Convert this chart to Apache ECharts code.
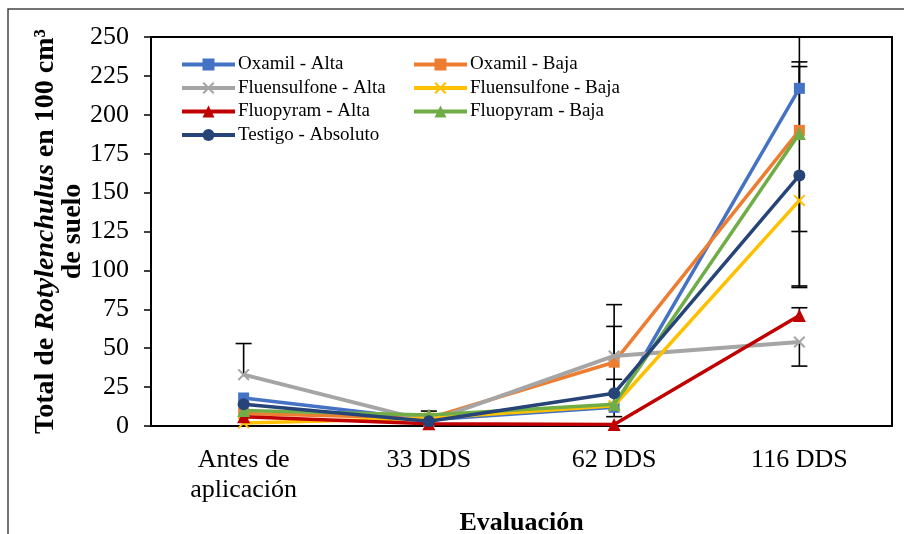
<!DOCTYPE html>
<html><head><meta charset="utf-8">
<script src="https://cdn.jsdelivr.net/npm/echarts@6/dist/echarts.min.js"></script>
<style>html,body{margin:0;padding:0;background:#fff}#c{width:904px;height:534px}</style>
</head><body><div id="c"></div>
<script>
const categories = ['Antes de\naplicación', '33 DDS', '62 DDS', '116 DDS'];
const yTicks = [0, 25, 50, 75, 100, 125, 150, 175, 200, 225, 250];
const seriesNames = ['Oxamil - Alta', 'Oxamil - Baja', 'Fluensulfone - Alta', 'Fluensulfone - Baja', 'Fluopyram - Alta', 'Fluopyram - Baja', 'Testigo - Absoluto'];
const oxamilAlta = [18, 4, 12, 217];
const oxamilBaja = [8, 5, 41, 190];
const fluensulfoneAlta = [33, 3, 45, 54];
const fluensulfoneBaja = [2, 5, 13, 145];
const fluopyramAlta = [6, 1.5, 1, 71];
const fluopyramBaja = [10, 7, 14, 188];
const testigoAbsoluto = [14, 3, 21, 161];
// error bars: plus / minus amounts per series per category (0 = not shown)
const plusOxamilAlta = [0, 0, 0, 17];
const minusOxamilAlta = [0, 0, 0, 0];
const plusOxamilBaja = [0, 0, 37, 41];
const minusOxamilBaja = [0, 0, 35, 0];
const plusFluensulfoneAlta = [20, 0, 19, 0];
const minusFluensulfoneAlta = [0, 0, 0, 15.5];
const plusFluensulfoneBaja = [0, 0, 0, 0];
const minusFluensulfoneBaja = [0, 0, 0, 56];
const plusFluopyramAlta = [0, 0, 0, 5];
const minusFluopyramAlta = [0, 0, 0, 0];
const plusFluopyramBaja = [0, 2.6, 0, 63];
const minusFluopyramBaja = [0, 0, 0, 63];
const plusTestigoAbsoluto = [0, 0, 9, 0];
const minusTestigoAbsoluto = [0, 0, 0, 71];

const values = [oxamilAlta, oxamilBaja, fluensulfoneAlta, fluensulfoneBaja, fluopyramAlta, fluopyramBaja, testigoAbsoluto];
const plus = [plusOxamilAlta, plusOxamilBaja, plusFluensulfoneAlta, plusFluensulfoneBaja, plusFluopyramAlta, plusFluopyramBaja, plusTestigoAbsoluto];
const minus = [minusOxamilAlta, minusOxamilBaja, minusFluensulfoneAlta, minusFluensulfoneBaja, minusFluopyramAlta, minusFluopyramBaja, minusTestigoAbsoluto];
const colors = ['#4472C4', '#ED7D31', '#A5A5A5', '#FFC000', '#C00000', '#70AD47', '#264478'];
const xSym = 'path://M0,1.2L1.2,0L5,3.8L8.8,0L10,1.2L6.2,5L10,8.8L8.8,10L5,6.2L1.2,10L0,8.8L3.8,5Z';
const symbols = ['rect', 'rect', xSym, xSym, 'triangle', 'triangle', 'circle'];
const symSizes = [11, 11, 12, 12, 13, 13, 12];

const FONT = '"Liberation Serif", "Times New Roman", serif';

const errData = [];
values.forEach(function (arr, s) {
  arr.forEach(function (v, i) {
    const p = plus[s][i], m = minus[s][i];
    if (p > 0 || m > 0) errData.push([i, v, v - m, v + p, m > 0 ? 1 : 0, p > 0 ? 1 : 0]);
  });
});

const series = [{
  type: 'custom',
  name: 'err',
  z: 1,
  clip: true,
  silent: true,
  data: errData,
  renderItem: function (params, api) {
    const x = api.value(0);
    const lo = api.coord([x, api.value(2)]);
    const hi = api.coord([x, api.value(3)]);
    const w = 8;
    const st = { stroke: '#000', lineWidth: 1.6 };
    const ch = [{ type: 'line', shape: { x1: lo[0], y1: lo[1], x2: hi[0], y2: hi[1] }, style: st }];
    if (api.value(4)) ch.push({ type: 'line', shape: { x1: lo[0] - w, y1: lo[1], x2: lo[0] + w, y2: lo[1] }, style: st });
    if (api.value(5)) ch.push({ type: 'line', shape: { x1: hi[0] - w, y1: hi[1], x2: hi[0] + w, y2: hi[1] }, style: st });
    return { type: 'group', children: ch };
  }
}];
seriesNames.forEach(function (n, i) {
  series.push({
    type: 'line', name: n, data: values[i], z: 2 + i,
    symbol: symbols[i], symbolSize: symSizes[i], showSymbol: true,
    lineStyle: { color: colors[i], width: i === 2 ? 4 : 3.5 },
    itemStyle: { color: colors[i] },
    emphasis: { disabled: true }, animation: false
  });
});

const legendBase = {
  top: 50, orient: 'vertical', itemWidth: 53, itemHeight: 15, itemGap: 4.5,
  lineStyle: { width: 4 },
  textStyle: { fontFamily: FONT, fontSize: 19, color: '#000', padding: [0, 0, 0, -2] }
};

const chart = echarts.init(document.getElementById('c'), null, { renderer: 'canvas' });
chart.setOption({
  animation: false,
  backgroundColor: '#fff',
  graphic: [{ type: 'rect', shape: { x: 8, y: 9, width: 1000, height: 600 }, style: { fill: 'none', stroke: '#444', lineWidth: 1.5 }, z: -10 }],
  grid: { left: 151, right: 12, top: 37, bottom: 108, containLabel: false, outerBoundsMode: 'none',
    show: true, borderColor: '#000', borderWidth: 2, backgroundColor: 'transparent' },
  legend: [
    Object.assign({}, legendBase, { left: 175, data: [seriesNames[0], seriesNames[2], seriesNames[4], seriesNames[6]] }),
    Object.assign({}, legendBase, { left: 407, data: [seriesNames[1], seriesNames[3], seriesNames[5]] })
  ],
  xAxis: {
    type: 'category', data: categories, boundaryGap: true,
    axisLine: { lineStyle: { color: '#000', width: 2 } },
    axisTick: { show: false },
    axisLabel: { fontFamily: FONT, fontSize: 26, color: '#000', lineHeight: 30, margin: 19, interval: 0 },
    name: 'Evaluación', nameLocation: 'middle', nameGap: 84, nameMoveOverlap: false,
    nameTextStyle: { fontFamily: FONT, fontSize: 26, fontWeight: 'bold', color: '#000' }
  },
  yAxis: {
    type: 'value', min: 0, max: 250, interval: 25,
    splitLine: { show: false },
    axisLine: { show: true, lineStyle: { color: '#000', width: 2 } },
    axisTick: { show: true, length: 7, lineStyle: { color: '#000', width: 1.5 } },
    axisLabel: { fontFamily: FONT, fontSize: 26, color: '#000', margin: 22,
      formatter: function (v) { return yTicks.indexOf(v) >= 0 ? String(v) : ''; } },
    name: '{b|Total de }{bi|Rotylenchulus}{b| en 100 cm³}\n{b|de suelo}',
    nameLocation: 'middle', nameRotate: 90, nameGap: 65, nameMoveOverlap: false,
    nameTextStyle: {
      align: 'center', lineHeight: 27,
      rich: {
        b: { fontFamily: FONT, fontSize: 28, fontWeight: 'bold', color: '#000', lineHeight: 27 },
        bi: { fontFamily: FONT, fontSize: 28, fontWeight: 'bold', fontStyle: 'italic', color: '#000', lineHeight: 27 }
      }
    }
  },
  series: series
});
</script></body></html>
